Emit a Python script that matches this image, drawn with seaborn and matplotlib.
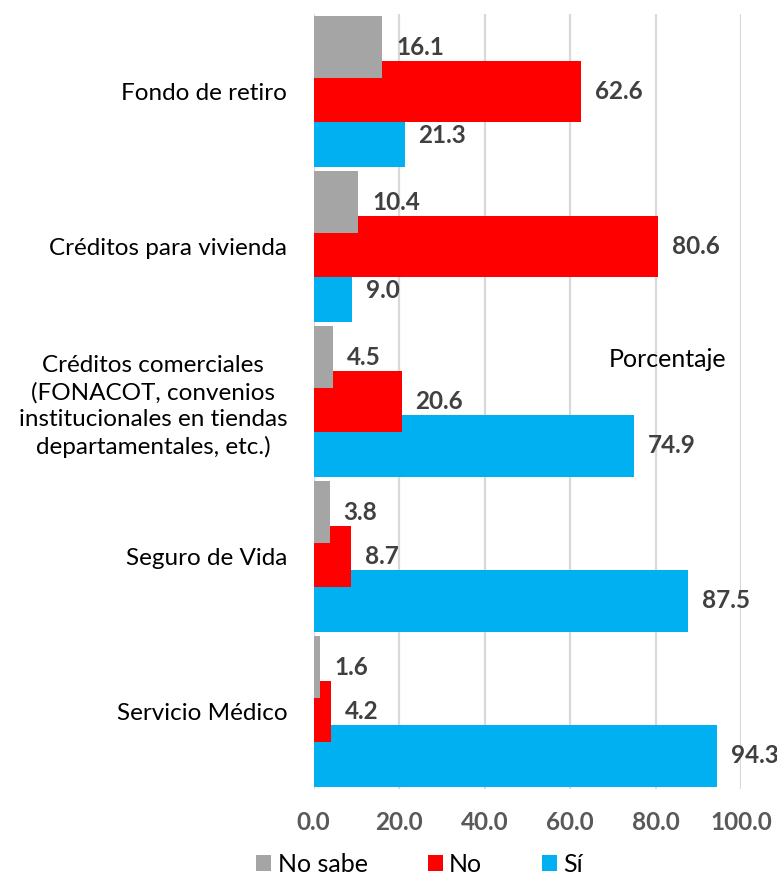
import matplotlib
matplotlib.use("Agg")
import matplotlib.pyplot as plt
import seaborn as sns
import numpy as np
from matplotlib.patches import Patch

categories = [
    "Fondo de retiro",
    "Créditos para vivienda",
    "Créditos comerciales\n(FONACOT, convenios\ninstitucionales en tiendas\ndepartamentales, etc.)",
    "Seguro de Vida",
    "Servicio Médico",
]
no_sabe = [16.1, 10.4, 4.5, 3.8, 1.6]
no = [62.6, 80.6, 20.6, 8.7, 4.2]
si = [21.3, 9.0, 74.9, 87.5, 94.3]
series_names = ["No sabe", "No", "Sí"]
x_ticks = [0, 20, 40, 60, 80, 100]

colors = {"No sabe": "#A5A5A5", "No": "#FF0000", "Sí": "#00B0F0"}

sns.set_theme(style="white")
plt.rcParams["font.family"] = ["Lato", "DejaVu Sans"]

fig = plt.figure(figsize=(7.77, 8.75), dpi=100)
ax = fig.add_axes([0.4035, 0.0983, 0.5508, 0.8857])

idx = np.arange(len(categories))
offset = 0.287
height = 0.394

# draw order: Sí beneath, then No, then No sabe on top
layers = [("Sí", si, offset), ("No", no, 0.0), ("No sabe", no_sabe, -offset)]
for name, vals, off in layers:
    sns.barplot(x=vals, y=idx + off, orient="h", native_scale=True,
                width=height, color=colors[name], saturation=1,
                edgecolor="none", linewidth=0, ax=ax, zorder=2)

for cont in ax.containers:
    ax.bar_label(cont, fmt="%.1f", padding=10, fontsize=17.5, fontweight="bold",
                 color="#404040", clip_on=False)

ax.set_xlim(0, 100)
ax.set_ylim(len(categories) - 0.5, -0.5)
ax.set_xticks(x_ticks)
ax.set_xticklabels([f"{t:.1f}" for t in x_ticks], fontsize=17.5, fontweight="bold",
                   color="#595959")
ax.set_yticks(idx)
ax.set_yticklabels(categories, fontsize=17.5, color="#000000", multialignment="center",
                   linespacing=1.32)
ax.tick_params(axis="x", length=0, pad=16)
ax.tick_params(axis="y", length=0, pad=19)
ax.set_xlabel("")
ax.set_ylabel("")

ax.grid(axis="x", color="#D9D9D9", linewidth=1.6, zorder=0)
ax.grid(axis="y", visible=False)
ax.set_axisbelow(True)
for s in ["top", "right", "bottom", "left"]:
    ax.spines[s].set_visible(False)

ax.text(69.0, 1.73, "Porcentaje", fontsize=18, color="#000000", va="center", ha="left")

handles = [Patch(facecolor=colors[n], edgecolor="none") for n in series_names]
fig.legend(handles, series_names, loc="center", bbox_to_anchor=(0.54, 0.0125),
           ncol=3, frameon=False, fontsize=18, handlelength=0.6, handleheight=0.6,
           handletextpad=0.25, columnspacing=2.4, labelcolor="#000000")

fig.savefig("out.png", dpi=100)
